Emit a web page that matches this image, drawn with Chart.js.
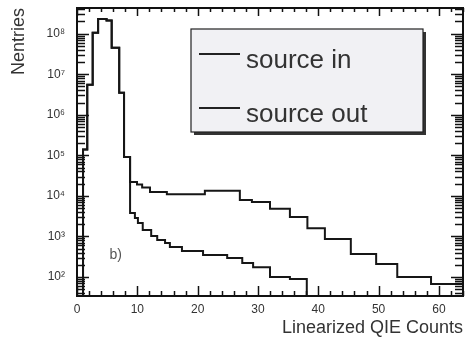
<!DOCTYPE html>
<html lang="en">
<head>
<meta charset="UTF-8">
<title>Linearized QIE Counts</title>
<script src="https://cdn.jsdelivr.net/npm/chart.js@4.4.0/dist/chart.umd.min.js"></script>
<style>
    body { margin: 0; background: #fff; }
</style>
</head>
<body>
<canvas id="qie" width="465" height="341"></canvas>
<script>
// shared peak bins: left edges and entries
const peakEdges = [1.0, 1.7, 2.6, 3.5, 4.9, 5.75, 7.0, 7.8];
const peakCounts = [1.4e5, 5.5e6, 1.05e8, 2.3e8, 2.1e8, 4.5e7, 3.5e6, 9.1e4];

// tails: edges have one entry more than counts
const inEdges = [8.8, 9.95, 10.8, 12.1, 14.9, 21.2, 27.0, 29.0, 32.0, 35.3, 38.2, 41.1, 45.4, 49.6, 53.1, 58.7, 64];
const inCounts = [2.2e4, 1.9e4, 1.6e4, 1.25e4, 1.1e4, 1.33e4, 7900, 7100, 4800, 3000, 1600, 870, 370, 210, 100, 67];

const outEdges = [8.8, 9.6, 10.1, 10.9, 12.3, 13.3, 14.6, 15.4, 17.4, 20.9, 24.9, 27.4, 29.2, 32.0, 35.3, 38.1, 41.1];
const outCounts = [3800, 2850, 2150, 1450, 1030, 820, 690, 550, 440, 350, 295, 220, 175, 100, 89, 0];

const seriesNames = ['source in', 'source out'];
const xTitle = 'Linearized QIE Counts';
const yTitle = 'Nentries';
const panelLabel = 'b)';
const panelPos = [6.4, 350];
const xMin = 0, xMax = 64;
const yMin = 34, yMax = 4.3e8;

const sup = ['⁰', '¹', '²', '³', '⁴', '⁵', '⁶', '⁷', '⁸', '⁹'];

function histPoints(edges, counts) {
    const pts = [{x: edges[0], y: yMin}];
    counts.forEach((c, i) => pts.push({x: edges[i], y: c > 0 ? c : yMin}));
    const last = counts[counts.length - 1];
    pts.push({x: edges[edges.length - 1], y: last > 0 ? last : yMin});
    return pts;
}

const inPts = histPoints(peakEdges.concat(inEdges), peakCounts.concat(inCounts));
const outPts = histPoints(peakEdges.concat(outEdges), peakCounts.concat(outCounts));

function seg(ctx, x1, y1, x2, y2) {
    ctx.beginPath();
    ctx.moveTo(x1, y1);
    ctx.lineTo(x2, y2);
    ctx.stroke();
}

// frame, ROOT style ticks, legend box and panel label
const decor = {
    id: 'decor',
    afterDatasetsDraw(chart) {
        const {ctx, chartArea: a, scales: {x, y}} = chart;
        ctx.save();
        ctx.strokeStyle = '#111';
        ctx.lineWidth = 1.5;
        for (let v = xMin; v <= xMax; v += 2) {
            const px = Math.round(x.getPixelForValue(v)) + 0.5;
            const major = v % 10 === 0;
            seg(ctx, px, a.bottom, px, a.bottom - (major ? 10 : 5));
            seg(ctx, px, a.top, px, a.top + (major ? 8 : 4));
        }
        for (let e = 1; e <= 8; e++) {
            for (let m = 1; m <= 9; m++) {
                const v = m * Math.pow(10, e);
                if (v < yMin || v > yMax) continue;
                const py = Math.round(y.getPixelForValue(v)) + 0.5;
                const len = m === 1 ? 12 : 8;
                seg(ctx, a.left, py, a.left + len, py);
                seg(ctx, a.right, py, a.right - len, py);
            }
        }
        ctx.lineWidth = 2;
        ctx.strokeRect(a.left, a.top, a.width, a.height);

        // legend
        const bx = a.left + 114, by = a.top + 21, bw = 232, bh = 103;
        ctx.fillStyle = '#333';
        ctx.fillRect(bx + 3, by + 3, bw, bh);
        ctx.fillStyle = '#f1f1f4';
        ctx.fillRect(bx, by, bw, bh);
        ctx.lineWidth = 1.2;
        ctx.strokeStyle = '#222';
        ctx.strokeRect(bx, by, bw, bh);
        ctx.font = '26px "Liberation Sans", Arial, sans-serif';
        ctx.fillStyle = '#333';
        ctx.textBaseline = 'alphabetic';
        seriesNames.forEach((name, i) => {
            const ly = by + 25 + i * 54;
            ctx.lineWidth = 2;
            seg(ctx, bx + 8, ly, bx + 49, ly);
            ctx.fillText(name, bx + 55, ly + 14);
        });

        ctx.font = '14px "Liberation Sans", Arial, sans-serif';
        ctx.fillStyle = '#555';
        ctx.textAlign = 'center';
        ctx.textBaseline = 'middle';
        ctx.fillText(panelLabel, x.getPixelForValue(panelPos[0]), y.getPixelForValue(panelPos[1]));
        ctx.restore();
    }
};

const lineStyle = {
    borderColor: '#161616',
    borderWidth: 2,
    pointRadius: 0,
    stepped: 'before',
    fill: false
};

new Chart(document.getElementById('qie'), {
    type: 'line',
    data: {
        datasets: [
            Object.assign({label: seriesNames[0], data: inPts}, lineStyle),
            Object.assign({label: seriesNames[1], data: outPts}, lineStyle)
        ]
    },
    options: {
        responsive: false,
        animation: false,
        parsing: false,
        layout: {padding: {top: 8, right: 2, left: 0, bottom: 0}},
        plugins: {legend: {display: false}, tooltip: {enabled: false}},
        scales: {
            x: {
                type: 'linear',
                min: xMin,
                max: xMax,
                grid: {display: false, drawTicks: false},
                border: {display: false},
                ticks: {
                    stepSize: 10,
                    includeBounds: false,
                    padding: 6,
                    color: '#333',
                    font: {family: '"Liberation Sans", Arial, sans-serif', size: 12}
                },
                title: {
                    display: true,
                    text: xTitle,
                    align: 'end',
                    color: '#333',
                    font: {family: '"Liberation Sans", Arial, sans-serif', size: 18},
                    padding: {top: 0, bottom: 2}
                },
                afterFit(scale) {
                    scale.height = 45;
                    scale.paddingLeft = 0;
                    scale.paddingRight = 0;
                }
            },
            y: {
                type: 'logarithmic',
                min: yMin,
                max: yMax,
                grid: {display: false, drawTicks: false},
                border: {display: false},
                ticks: {
                    autoSkip: false,
                    padding: 12,
                    color: '#333',
                    font: {family: '"Liberation Sans", Arial, sans-serif', size: 12},
                    callback(v) {
                        const e = Math.log10(v);
                        if (Math.abs(e - Math.round(e)) > 1e-6) return null;
                        return '10' + sup[Math.round(e)];
                    }
                },
                title: {
                    display: true,
                    text: yTitle,
                    align: 'end',
                    color: '#333',
                    font: {family: '"Liberation Sans", Arial, sans-serif', size: 18},
                    padding: {top: 8, bottom: 0}
                },
                afterFit(scale) {
                    scale.width = 77;
                    scale.paddingTop = 0;
                    scale.paddingBottom = 0;
                }
            }
        }
    },
    plugins: [decor]
});
</script>
</body>
</html>
